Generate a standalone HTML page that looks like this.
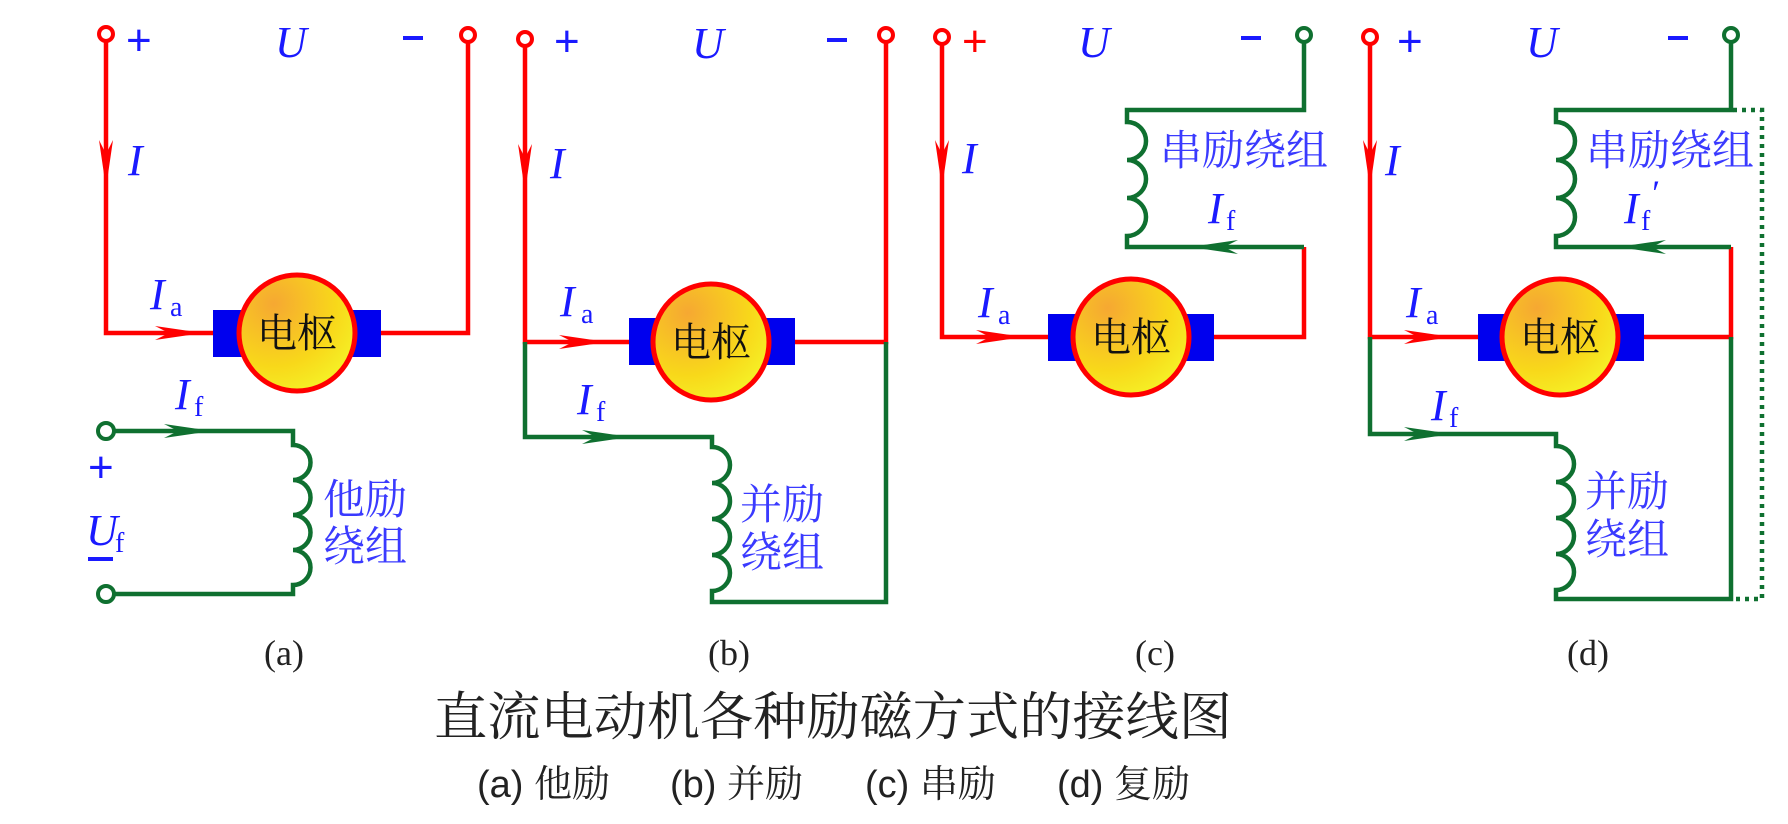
<!DOCTYPE html>
<html><head><meta charset="utf-8"><style>
html,body{margin:0;padding:0;background:#fff;}
svg{display:block;}
.it{font-family:"Liberation Serif",serif;font-style:italic;fill:#1a1aff;}
.sub{font-family:"Liberation Serif",serif;fill:#1a1aff;}
.cj{font-family:"Liberation Serif","Noto Serif CJK SC",serif;fill:#3a3aff;}
.mt{font-family:"Noto Serif CJK SC","Noto Sans CJK SC",serif;fill:#111;}
.lbl{font-family:"Liberation Serif",serif;fill:#222;}
.cap{font-family:"Liberation Sans","Noto Serif CJK SC",serif;fill:#222;}
</style></head><body>
<svg width="1788" height="824" viewBox="0 0 1788 824" xmlns="http://www.w3.org/2000/svg">
<defs>
<radialGradient id="g" cx="0.3" cy="0.25" r="0.9">
<stop offset="0" stop-color="#f6a832"/><stop offset="0.6" stop-color="#f8d81a"/><stop offset="1" stop-color="#f4f82a"/>
</radialGradient>
</defs>
<g fill="none" stroke-width="4.5" stroke-linejoin="miter">
<path d="M106,41 V333 H214 M381,333 H468 V42" stroke="#f00"/>
<path d="M114,431 H293 V445 a9,9 0 0 1 0,35 a9,9 0 0 1 0,35 a9,9 0 0 1 0,35 a9,9 0 0 1 0,35 V594 H114" stroke="#0f7030"/>
<path d="M525,47 V342 H629 M795,342 H886 V42" stroke="#f00"/>
<path d="M525,342 V437 H712 V447 a9,9 0 0 1 0,36 a9,9 0 0 1 0,36 a9,9 0 0 1 0,36 a9,9 0 0 1 0,36 V602 H886 V342" stroke="#0f7030"/>
<path d="M942,45 V337 H1048 M1214,337 H1304 V247" stroke="#f00"/>
<path d="M1304,42 V110 H1127 V122 a9,9 0 0 1 0,38 a9,9 0 0 1 0,38 a9,9 0 0 1 0,38 V247 H1304" stroke="#0f7030"/>
<path d="M1370,45 V337 H1478 M1644,337 H1731 V247" stroke="#f00"/>
<path d="M1731,42 V110 H1556 V122 a9,9 0 0 1 0,38 a9,9 0 0 1 0,38 a9,9 0 0 1 0,38 V247 H1731" stroke="#0f7030"/>
<path d="M1370,337 V434 H1556 V446 a9,9 0 0 1 0,36 a9,9 0 0 1 0,36 a9,9 0 0 1 0,36 a9,9 0 0 1 0,36 V599 H1731 V337" stroke="#0f7030"/>
<path d="M1733,110 H1762 V599 H1733" stroke="#0f7030" stroke-dasharray="4,5"/>
</g>
<g fill="#fff" stroke-width="4">
<circle cx="106" cy="34" r="7" stroke="#f00"/><circle cx="468" cy="35" r="7" stroke="#f00"/>
<circle cx="106" cy="431" r="8" stroke="#0f7030"/><circle cx="106" cy="594" r="8" stroke="#0f7030"/>
<circle cx="525" cy="39" r="7" stroke="#f00"/><circle cx="886" cy="35" r="7" stroke="#f00"/>
<circle cx="942" cy="37" r="7" stroke="#f00"/><circle cx="1304" cy="35" r="7" stroke="#0f7030"/>
<circle cx="1370" cy="37" r="7" stroke="#f00"/><circle cx="1731" cy="35" r="7" stroke="#0f7030"/>
</g>
<g fill="#f00">
<path d="M106,188 l-7,-48 l7,14 l7,-14 z"/>
<path d="M203,333 l-48,-7 l14,7 l-14,7 z"/>
<path d="M525,192 l-7,-48 l7,14 l7,-14 z"/>
<path d="M607,342 l-48,-7 l14,7 l-14,7 z"/>
<path d="M942,188 l-7,-48 l7,14 l7,-14 z"/>
<path d="M1024,337 l-48,-7 l14,7 l-14,7 z"/>
<path d="M1370,188 l-7,-48 l7,14 l7,-14 z"/>
<path d="M1452,337 l-48,-7 l14,7 l-14,7 z"/>
</g>
<g fill="#0f7030">
<path d="M212,431 l-48,-7 l14,7 l-14,7 z"/>
<path d="M630,437 l-48,-7 l14,7 l-14,7 z"/>
<path d="M1190,247 l48,-7 l-14,7 l14,7 z"/>
<path d="M1452,434 l-48,-7 l14,7 l-14,7 z"/>
<path d="M1618,247 l48,-7 l-14,7 l14,7 z"/>
</g>
<g>
<rect x="213" y="310" width="168" height="47" fill="#0000ee"/><circle cx="297" cy="333" r="58" fill="url(#g)" stroke="#f00" stroke-width="5"/>
<rect x="629" y="318" width="166" height="47" fill="#0000ee"/><circle cx="711" cy="342" r="58" fill="url(#g)" stroke="#f00" stroke-width="5"/>
<rect x="1048" y="314" width="166" height="47" fill="#0000ee"/><circle cx="1131" cy="337" r="58" fill="url(#g)" stroke="#f00" stroke-width="5"/>
<rect x="1478" y="314" width="166" height="47" fill="#0000ee"/><circle cx="1560" cy="337" r="58" fill="url(#g)" stroke="#f00" stroke-width="5"/>
</g>
<g class="mt" font-size="40" text-anchor="middle">
<text x="297" y="347">电枢</text><text x="711" y="356">电枢</text>
<text x="1131" y="351">电枢</text><text x="1560" y="351">电枢</text>
</g>
<g font-family="Liberation Sans,sans-serif" font-size="44" fill="#1a1aff">
<text x="126" y="55">+</text><text x="554" y="56">+</text>
<text x="962" y="56" fill="#f00">+</text><text x="1397" y="56">+</text>
<text x="88" y="482">+</text>
</g>
<g fill="#1a1aff">
<rect x="403" y="36" width="20" height="4"/><rect x="827" y="38" width="20" height="4"/>
<rect x="1241" y="36" width="20" height="4"/><rect x="1668" y="36" width="20" height="4"/>
<rect x="88" y="557" width="25" height="4"/>
</g>
<g class="it" font-size="44">
<text x="275" y="57">U</text><text x="692" y="58">U</text><text x="1078" y="57">U</text><text x="1526" y="57">U</text>
<text x="128" y="175">I</text><text x="550" y="178">I</text><text x="962" y="173">I</text><text x="1385" y="175">I</text>
<text x="150" y="309">I</text><text x="560" y="316">I</text><text x="978" y="317">I</text><text x="1406" y="317">I</text>
<text x="175" y="409">I</text><text x="577" y="414">I</text><text x="1208" y="223">I</text><text x="1431" y="420">I</text>
<text x="1624" y="223">I</text>
<text x="86" y="545">U</text>
</g>
<g class="sub" font-size="28">
<text x="170" y="316">a</text><text x="581" y="323">a</text><text x="998" y="324">a</text><text x="1426" y="324">a</text>
<text x="194" y="416">f</text><text x="596" y="421">f</text><text x="1226" y="230">f</text><text x="1449" y="427">f</text>
<text x="1641" y="230">f</text><text x="115" y="552">f</text>
</g>
<text x="1650" y="205" class="it" font-size="36">′</text>
<g class="cj" font-size="42">
<text x="323" y="514">他励</text><text x="323" y="561">绕组</text>
<text x="740" y="519">并励</text><text x="740" y="567">绕组</text>
<text x="1160" y="165">串励绕组</text><text x="1586" y="165">串励绕组</text>
<text x="1585" y="506">并励</text><text x="1585" y="554">绕组</text>
</g>
<g class="lbl" font-size="36" text-anchor="middle">
<text x="284" y="665">(a)</text><text x="729" y="665">(b)</text><text x="1155" y="665">(c)</text><text x="1588" y="665">(d)</text>
</g>
<text x="434" y="735" class="cap" font-size="52" textLength="798" lengthAdjust="spacingAndGlyphs">直流电动机各种励磁方式的接线图</text>
<g class="cap" font-size="38">
<text x="477" y="797">(a) 他励</text><text x="670" y="797">(b) 并励</text>
<text x="865" y="797">(c) 串励</text><text x="1057" y="797">(d) 复励</text>
</g>
</svg>
</body></html>
